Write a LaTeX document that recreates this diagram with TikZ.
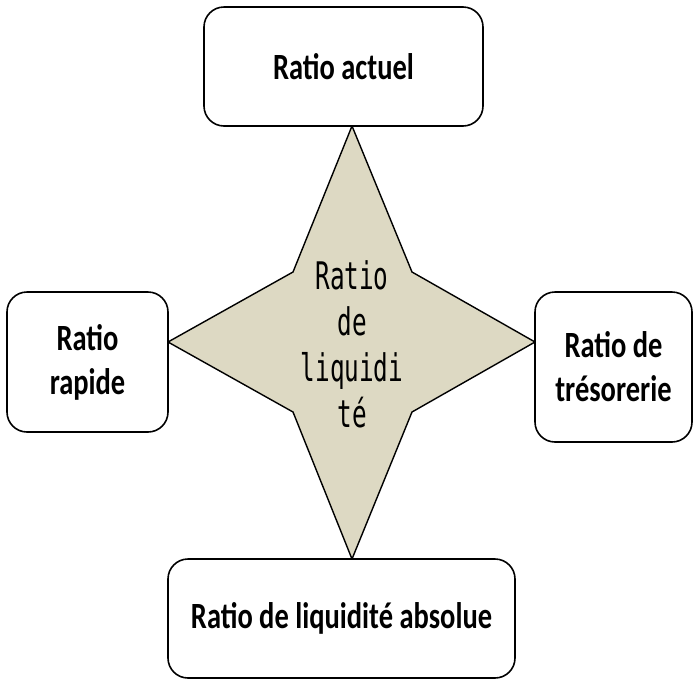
\documentclass[tikz,border=0pt]{standalone}
\usepackage{fontspec}
\newfontfamily\boxfont{Carlito}[FakeStretch=0.77]
\newfontfamily\gothfont{DejaVu Sans Mono}[FakeStretch=0.64]
\definecolor{starfill}{RGB}{221,217,195}
\tikzset{
	ratiobox/.style={draw,line width=1.6pt,rounded corners=20pt,fill=white,inner sep=0pt,
		align=center,font=\boxfont\bfseries\fontsize{37}{44}\selectfont},
}
\begin{document}
\begin{tikzpicture}[x=1pt,y=-1pt]
		\useasboundingbox (0,0) rectangle (693,681);
		% star
		\coordinate (tN) at (352,126);
		\coordinate (tS) at (352,559);
		\coordinate (tW) at (168,342);
		\coordinate (tE) at (535,342);
		\coordinate (iNW) at (293,272);
		\coordinate (iNE) at (412,272);
		\coordinate (iSW) at (293,412);
		\coordinate (iSE) at (412,412);
		\draw[fill=starfill,line width=1.4pt,line join=miter]
			(tN)--(iNE)--(tE)--(iSE)--(tS)--(iSW)--(tW)--(iNW)--cycle;
		\node (centre) at (352,344)[align=center,font=\gothfont\fontsize{38}{46}\selectfont]
			{Ratio\\de\\liquidi\\té};
		% boxes
		\node (actuel) at (343.5,66.5)[ratiobox,minimum width=279pt,minimum height=119pt]{Ratio actuel};
		\node (rapide) at (87.5,362)[ratiobox,minimum width=161pt,minimum height=140pt]{Ratio\\rapide};
		\node (tresor) at (613.5,367)[ratiobox,minimum width=157pt,minimum height=150pt]{Ratio de\\trésorerie};
		\node (absolue) at (341.5,618.5)[ratiobox,minimum width=347pt,minimum height=119pt]{Ratio de liquidité absolue};
	\end{tikzpicture}
\end{document}
